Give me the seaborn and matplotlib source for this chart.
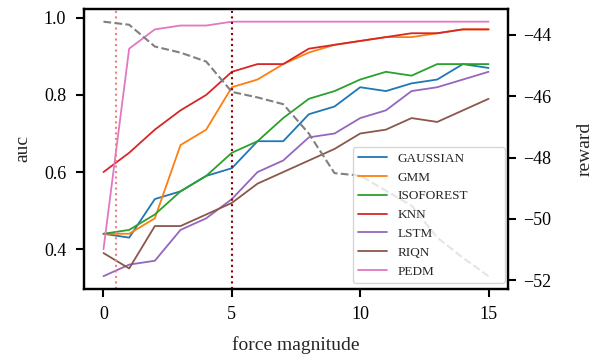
import numpy as np
import pandas as pd
import matplotlib
matplotlib.use("Agg")
import matplotlib.pyplot as plt
from matplotlib.lines import Line2D
import seaborn as sns

force = list(range(16))
methods = ["GAUSSIAN", "GMM", "ISOFOREST", "KNN", "LSTM", "RIQN", "PEDM"]
gaussian = [0.44, 0.43, 0.53, 0.55, 0.59, 0.61, 0.68, 0.68, 0.75, 0.77, 0.82, 0.81, 0.83, 0.84, 0.88, 0.87]
gmm = [0.44, 0.44, 0.48, 0.67, 0.71, 0.82, 0.84, 0.88, 0.91, 0.93, 0.94, 0.95, 0.95, 0.96, 0.97, 0.97]
isoforest = [0.44, 0.45, 0.49, 0.55, 0.59, 0.65, 0.68, 0.74, 0.79, 0.81, 0.84, 0.86, 0.85, 0.88, 0.88, 0.88]
knn = [0.60, 0.65, 0.71, 0.76, 0.80, 0.86, 0.88, 0.88, 0.92, 0.93, 0.94, 0.95, 0.96, 0.96, 0.97, 0.97]
lstm = [0.33, 0.36, 0.37, 0.45, 0.48, 0.53, 0.60, 0.63, 0.69, 0.70, 0.74, 0.76, 0.81, 0.82, 0.84, 0.86]
riqn = [0.39, 0.35, 0.46, 0.46, 0.49, 0.52, 0.57, 0.60, 0.63, 0.66, 0.70, 0.71, 0.74, 0.73, 0.76, 0.79]
pedm = [0.40, 0.92, 0.97, 0.98, 0.98, 0.99, 0.99, 0.99, 0.99, 0.99, 0.99, 0.99, 0.99, 0.99, 0.99, 0.99]
reward = [-43.57, -43.67, -44.38, -44.58, -44.87, -45.86, -46.04, -46.26, -47.22, -48.51,
          -48.59, -49.08, -49.57, -50.61, -51.27, -51.87]

series = [gaussian, gmm, isoforest, knn, lstm, riqn, pedm]
df = pd.DataFrame({
    "force magnitude": force * len(methods),
    "auc": np.concatenate(series),
    "method": np.repeat(methods, len(force)),
})

sns.set_theme(style="ticks")
plt.rcParams["font.family"] = ["Liberation Serif", "DejaVu Serif"]
plt.rcParams["axes.linewidth"] = 1.6
plt.rcParams["xtick.major.width"] = 1.5
plt.rcParams["ytick.major.width"] = 1.5
plt.rcParams["xtick.major.size"] = 6
plt.rcParams["ytick.major.size"] = 6

fig, ax = plt.subplots(figsize=(6.06, 3.58), dpi=100)
fig.subplots_adjust(left=0.139, right=0.838, top=0.975, bottom=0.193)

palette = sns.color_palette("tab10", len(methods))
sns.lineplot(data=df, x="force magnitude", y="auc", hue="method", hue_order=methods,
             palette=palette, linewidth=1.3, ax=ax, legend=False)
ax.axvline(0.5, color="lightcoral", linestyle=":", linewidth=1.5)
ax.axvline(5, color="darkred", linestyle=":", linewidth=1.5)

ax2 = ax.twinx()
sns.lineplot(x=force, y=reward, color="gray", linestyle="--", linewidth=1.5, ax=ax2)
ax2.set_ylabel("reward", fontsize=14, labelpad=18)
ax2.set_yticks([-44, -46, -48, -50, -52])

ax.set_xlabel("force magnitude", fontsize=14, labelpad=10)
ax.set_ylabel("auc", fontsize=14, labelpad=9)
ax.set_xticks([0, 5, 10, 15])
ax.set_yticks([0.4, 0.6, 0.8, 1.0])
ax.tick_params(axis="x", labelsize=13, colors="black", pad=6)
ax.tick_params(axis="y", labelsize=13, colors="black", pad=7)
ax2.tick_params(labelsize=13, colors="black", pad=5)
for a in (ax, ax2):
    for s in a.spines.values():
        s.set_color("black")

handles = [Line2D([], [], color=c, linewidth=1.3) for c in palette]
ax2.legend(handles, methods, loc="lower left", bbox_to_anchor=(0.634, 0.021, 0.359, 0.48),
           mode="expand", fontsize=9.5, labelspacing=0.5, handlelength=2.2,
           borderaxespad=0)

fig.savefig("out.png", dpi=100)
